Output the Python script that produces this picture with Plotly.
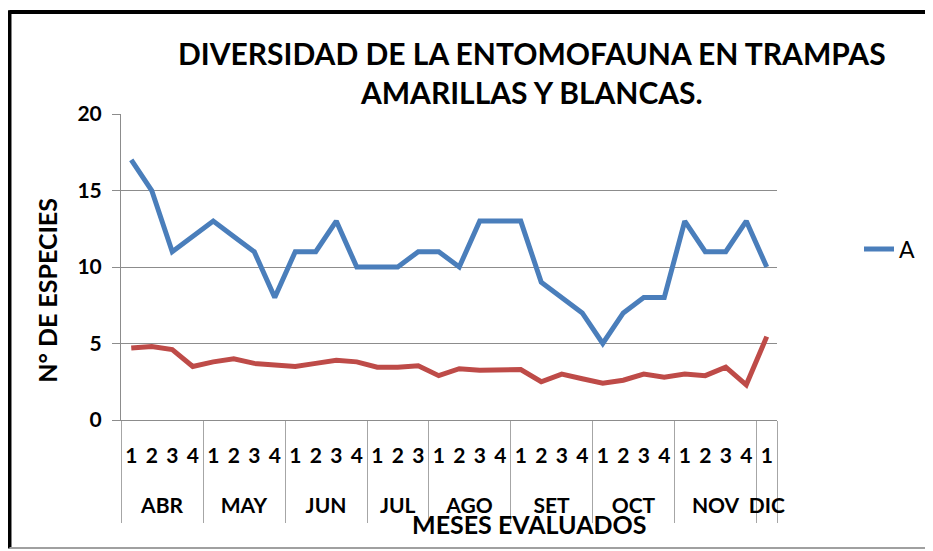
import plotly.graph_objects as go

# ---------------- data ----------------
months = ["ABR", "MAY", "JUN", "JUL", "AGO", "SET", "OCT", "NOV", "DIC"]
weeks_per_month = [4, 4, 4, 3, 4, 4, 4, 4, 1]
week_labels = [str(w) for n in weeks_per_month for w in range(1, n + 1)]

serie_a = [17, 15, 11, 12, 13, 12, 11, 8, 11, 11, 13, 10, 10, 10, 11, 11,
           10, 13, 13, 13, 9, 8, 7, 5, 7, 8, 8, 13, 11, 11, 13, 10]
serie_b = [4.7, 4.8, 4.6, 3.5, 3.8, 4.0, 3.7, 3.6, 3.5, 3.7, 3.9, 3.8, 3.45, 3.45, 3.55, 2.9,
           3.35, 3.25, 3.25, 3.3, 2.5, 3.0, 2.7, 2.4, 2.6, 3.0, 2.8, 3.0, 2.9, 3.45, 2.3, 5.45]
y_ticks = [0, 5, 10, 15, 20]

title_text = "DIVERSIDAD DE LA ENTOMOFAUNA EN TRAMPAS<br>AMARILLAS Y BLANCAS."
y_title = "N° DE ESPECIES"
x_title = "MESES EVALUADOS"

# ---------------- derived category positions ----------------
x = list(range(len(week_labels)))
bounds = [-0.5]
for n in weeks_per_month:
    bounds.append(bounds[-1] + n)
centers = [bounds[i] + weeks_per_month[i] / 2 for i in range(len(months))]

FONT = "Lato, Open Sans, sans-serif"
GRID = "#8C8C8C"

fig = go.Figure()
fig.add_trace(go.Scatter(x=x, y=serie_a, mode="lines", name="A",
                         line=dict(color="#4A7EBB", width=5)))
fig.add_trace(go.Scatter(x=x, y=serie_b, mode="lines", name="B", showlegend=False,
                         line=dict(color="#BE4B48", width=5)))
# carriers for the label axes
fig.add_trace(go.Scatter(x=x, y=[None] * len(x), xaxis="x2", showlegend=False,
                         hoverinfo="skip", mode="lines"))
fig.add_trace(go.Scatter(x=centers, y=[None] * len(centers), xaxis="x3", showlegend=False,
                         hoverinfo="skip", mode="lines"))

rng = [-0.5, len(x) - 0.5]
fig.update_layout(
    width=925, height=543, autosize=False,
    margin=dict(l=113, r=156, t=106, b=131),
    paper_bgcolor="white", plot_bgcolor="white",
    font=dict(family=FONT, color="black"),
    xaxis=dict(range=rng, tickvals=bounds, showticklabels=False, ticks="outside",
               ticklen=102, tickcolor="#A6A6A6", tickwidth=1, showline=True,
               linecolor=GRID, linewidth=1, showgrid=False, zeroline=False),
    xaxis2=dict(overlaying="x", anchor="y", side="bottom", range=rng, tickvals=x,
                ticktext=week_labels, ticks="", showline=False, showgrid=False,
                zeroline=False, ticklabelstandoff=21,
                tickfont=dict(family=FONT, size=21, weight="bold", color="black")),
    xaxis3=dict(overlaying="x", anchor="y", side="bottom", range=rng, tickvals=centers,
                ticktext=months, ticks="", showline=False, showgrid=False,
                zeroline=False, ticklabelstandoff=71,
                tickfont=dict(family=FONT, size=21, weight="bold", color="black")),
    yaxis=dict(range=[0, 20], tickvals=y_ticks, showgrid=True, gridcolor=GRID,
               gridwidth=1, showline=True, linecolor=GRID, ticks="outside", ticklen=8,
               tickcolor=GRID, zeroline=False, ticklabelstandoff=6,
               tickfont=dict(family=FONT, size=21, weight="bold", color="black")),
    showlegend=True,
    legend=dict(x=1.125, y=0.559, xanchor="left", yanchor="middle",
                font=dict(family=FONT, size=23, color="black"),
                bgcolor="rgba(0,0,0,0)"),
    annotations=[
        dict(text=title_text, xref="paper", yref="paper", x=0.626, y=1.136,
             xanchor="center", yanchor="middle", showarrow=False,
             font=dict(family=FONT, size=30, weight="bold", color="black")),
        dict(text=y_title, xref="paper", yref="paper", x=-0.113, y=0.425,
             xanchor="center", yanchor="middle", textangle=-90, showarrow=False,
             font=dict(family=FONT, size=25, weight="bold", color="black")),
        dict(text=x_title, xref="paper", yref="paper", x=0.622, y=-0.34,
             xanchor="center", yanchor="middle", showarrow=False,
             font=dict(family=FONT, size=25, weight="bold", color="black")),
    ],
    shapes=[
        dict(type="line", xref="paper", yref="paper", x0=-0.17, x1=1.3, y0=1.333, y1=1.333,
             line=dict(color="black", width=4)),
        dict(type="line", xref="paper", yref="paper", x0=-0.17, x1=-0.17, y0=-0.42, y1=1.339,
             line=dict(color="black", width=4)),
        dict(type="line", xref="paper", yref="paper", x0=-0.17, x1=1.3, y0=-0.418, y1=-0.418,
             line=dict(color="#A0A0A0", width=2)),
    ],
)

fig.write_html("out.html")
